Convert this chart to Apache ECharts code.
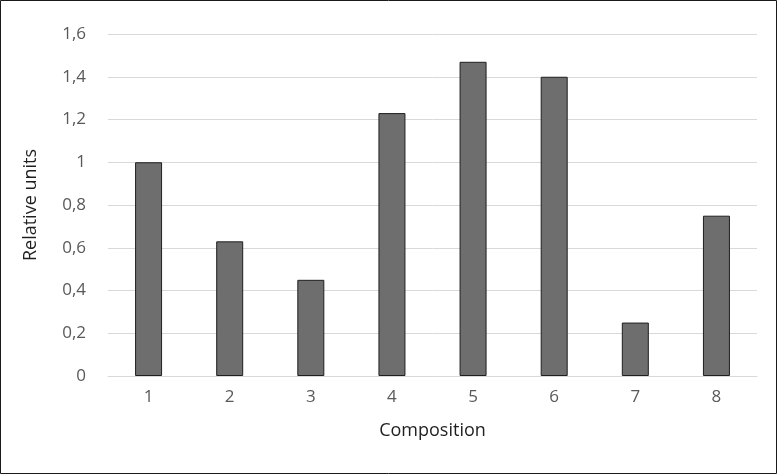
<!DOCTYPE html>
<html>
<head>
<meta charset="utf-8">
<script src="https://cdn.jsdelivr.net/npm/echarts@6/dist/echarts.min.js"></script>
<style>
  html, body { margin: 0; padding: 0; background: #fff; }
  #chart { width: 778px; height: 475px; }
</style>
</head>
<body>
<div id="chart"></div>
<script>
const categories = ['1', '2', '3', '4', '5', '6', '7', '8']
const values = [1.0, 0.63, 0.45, 1.23, 1.47, 1.40, 0.25, 0.75]

const chart = echarts.init(document.getElementById('chart'))

chart.setOption({
  animation: false,
  textStyle: { fontFamily: 'Open Sans' },
  graphic: [{
    type: 'rect',
    shape: { x: 0.5, y: 0.5, width: 776, height: 473 },
    style: { fill: 'none', stroke: '#1a1a1a', lineWidth: 1 },
    silent: true
  }],
  grid: { left: 108, right: 21, top: 34, bottom: 99 },
  xAxis: {
    type: 'category',
    data: categories,
    name: 'Composition',
    nameLocation: 'middle',
    nameGap: 46,
    nameTextStyle: { color: '#1f1f1f', fontSize: 18 },
    axisLine: { lineStyle: { color: '#d9d9d9', width: 1 } },
    axisTick: { show: false },
    axisLabel: { color: '#595959', fontSize: 17, margin: 13 }
  },
  yAxis: {
    type: 'value',
    min: 0,
    max: 1.6,
    interval: 0.2,
    name: 'Relative units',
    nameLocation: 'middle',
    nameGap: 68,
    nameTextStyle: { color: '#1f1f1f', fontSize: 18 },
    axisLine: { show: false },
    axisTick: { show: false },
    axisLabel: {
      color: '#595959',
      fontSize: 17,
      margin: 22,
      formatter: v => String(Math.round(v * 10) / 10).replace('.', ',')
    },
    splitLine: { lineStyle: { color: '#d9d9d9', width: 1 } }
  },
  series: [{
    type: 'bar',
    data: values,
    barWidth: 27,
    itemStyle: { color: '#6e6e6e', borderColor: '#1f1f1f', borderWidth: 1 }
  }]
})
</script>
</body>
</html>
